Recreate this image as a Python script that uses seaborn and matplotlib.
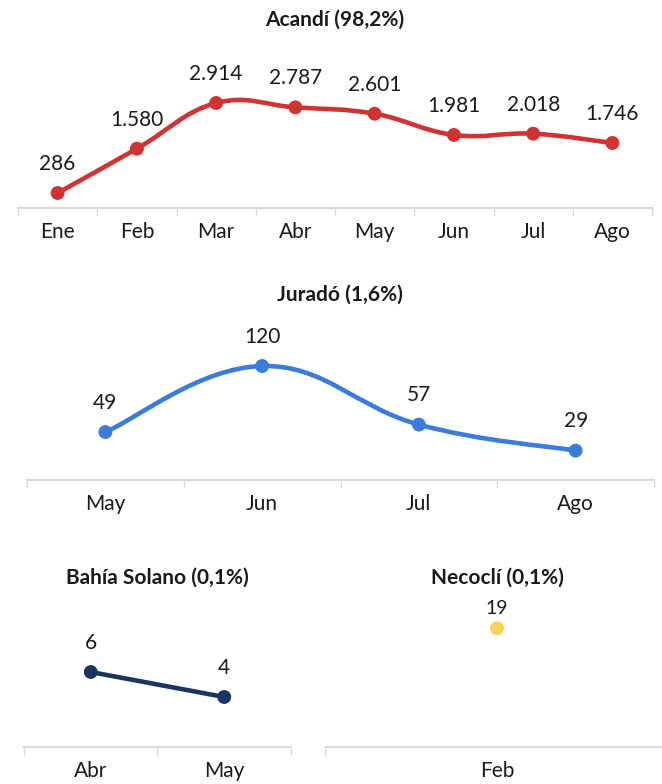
import numpy as np
import pandas as pd
import matplotlib
matplotlib.use("Agg")
import matplotlib.pyplot as plt
from matplotlib.path import Path
from matplotlib.patches import PathPatch
import seaborn as sns

sns.set_style("white")
plt.rcParams["font.family"] = ["Lato", "DejaVu Sans"]

# ---------------------------------------------------------------
# Data
# ---------------------------------------------------------------
acandi_months = ["Ene", "Feb", "Mar", "Abr", "May", "Jun", "Jul", "Ago"]
acandi_values = [286, 1580, 2914, 2787, 2601, 1981, 2018, 1746]

jurado_months = ["May", "Jun", "Jul", "Ago"]
jurado_values = [49, 120, 57, 29]

bahia_months = ["Abr", "May"]
bahia_values = [6, 4]

necocli_months = ["Feb"]
necocli_values = [19]

AXIS_GREY = "#d9d9d9"
TEXT = "#1a1a1a"


def fmt(v):
    return f"{v:,}".replace(",", ".")


def smooth_path(xs, ys, tension=0.4):
    # cubic bezier through the points (chart-style curve)
    pts = np.column_stack([xs, ys]).astype(float)
    n = len(pts)
    verts = [pts[0]]
    codes = [Path.MOVETO]
    for i in range(n - 1):
        prev = pts[i - 1] if i > 0 else pts[i]
        cur, nxt = pts[i], pts[i + 1]
        nxt2 = pts[i + 2] if i + 2 < n else pts[i + 1]
        c1 = cur + tension / 2 * (nxt - prev)
        c2 = nxt - tension / 2 * (nxt2 - cur)
        verts += [c1, c2, nxt]
        codes += [Path.CURVE4] * 3
    return Path(verts, codes)


def panel(fig, rect, months, values, color, ylim, label_size=15, label_off=21):
    ax = fig.add_axes(rect)
    df = pd.DataFrame({"x": np.arange(len(months)), "y": values})
    n = len(months)
    if n > 1:
        ax.add_patch(PathPatch(smooth_path(df["x"], df["y"]), facecolor="none",
                               edgecolor=color, lw=3.3, capstyle="round", zorder=2))
    sns.scatterplot(data=df, x="x", y="y", color=color, s=100, edgecolor="none",
                    ax=ax, zorder=3, legend=False)
    for x, y in zip(df["x"], df["y"]):
        ax.annotate(fmt(y), (x, y), xytext=(0, label_off), textcoords="offset points",
                    ha="center", va="center", fontsize=label_size, color=TEXT)
    ax.set_xlim(-0.5, n - 0.5)
    ax.set_ylim(*ylim)
    ax.set_xticks(np.arange(n + 1) - 0.5)
    ax.set_xticklabels([])
    ax.set_xticks(np.arange(n), minor=True)
    ax.set_xticklabels(months, minor=True, fontsize=15, color=TEXT)
    ax.tick_params(axis="x", which="major", length=6, width=1, color=AXIS_GREY,
                   direction="out", bottom=True)
    ax.tick_params(axis="x", which="minor", length=0, pad=10)
    ax.set_yticks([])
    ax.set_xlabel("")
    ax.set_ylabel("")
    for s in ["top", "right", "left"]:
        ax.spines[s].set_visible(False)
    ax.spines["bottom"].set_color(AXIS_GREY)
    ax.spines["bottom"].set_linewidth(1.5)
    ax.patch.set_alpha(0)
    return ax


W, H = 662, 784
fig = plt.figure(figsize=(W / 100, H / 100), dpi=100)


def r(x0, x1, ytop, ybot):
    return [x0 / W, 1 - ybot / H, (x1 - x0) / W, (ybot - ytop) / H]


TITLE = dict(ha="center", va="center", fontsize=15, fontweight="bold", color=TEXT)

panel(fig, r(18, 652, 40, 208), acandi_months, acandi_values, "#d13232", (-152, 4754))
fig.text(335 / W, 1 - 20 / H, "Acandí (98,2%)", **TITLE)

panel(fig, r(27, 654, 320, 480), jurado_months, jurado_values, "#3a7bdb", (-2.6, 169.5))
fig.text(340 / W, 1 - 295 / H, "Juradó (1,6%)", **TITLE)

panel(fig, r(24, 291, 597, 747), bahia_months, bahia_values, "#1b3563", (0, 12))
fig.text(157 / W, 1 - 578 / H, "Bahía Solano (0,1%)", **TITLE)

panel(fig, r(325, 669, 597, 747), necocli_months, necocli_values, "#f8d35a", (0, 24),
      label_size=14, label_off=14)
fig.text(497 / W, 1 - 578 / H, "Necoclí (0,1%)", **TITLE)

fig.savefig("out.png", dpi=100)
